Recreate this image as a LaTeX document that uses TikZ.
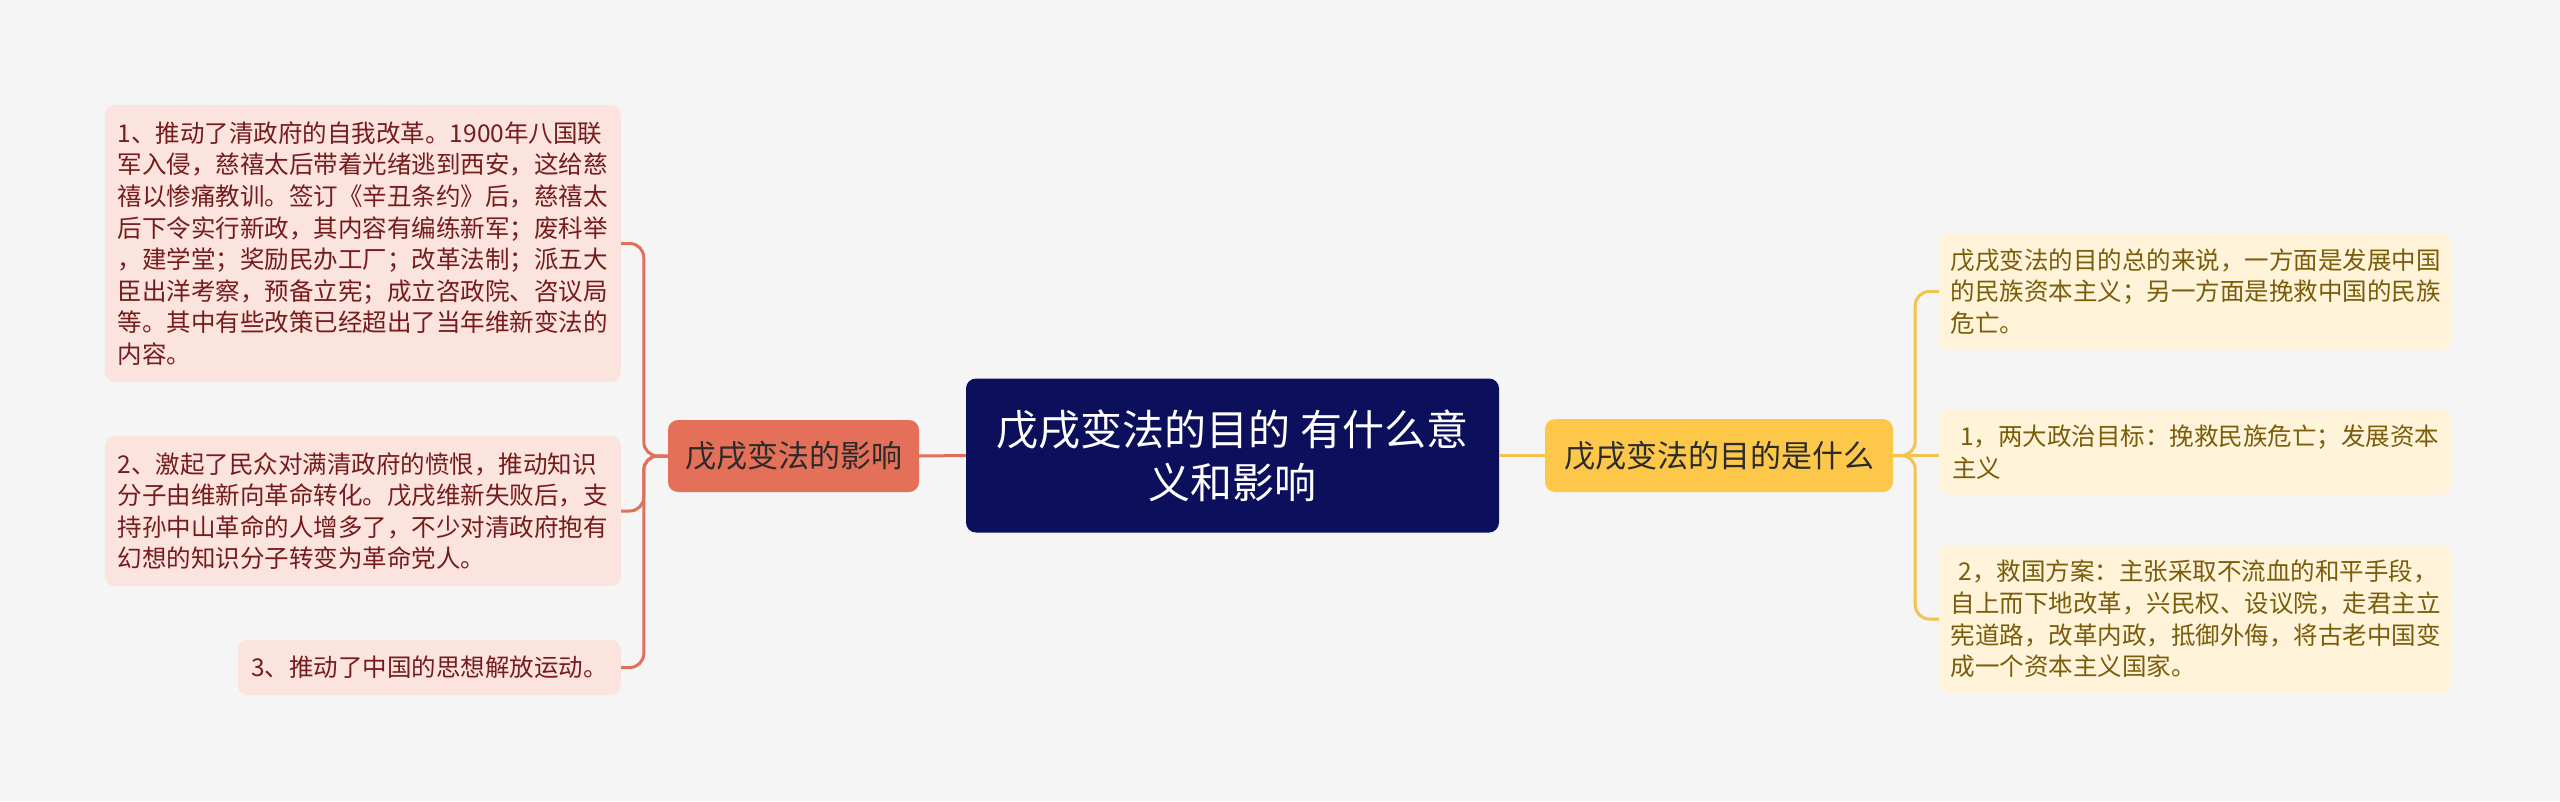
\documentclass[tikz,border=0pt]{standalone}
\usepackage{fontspec}
\setmainfont{Noto Sans CJK SC}
\definecolor{bg}{HTML}{F5F5F5}
\definecolor{navy}{HTML}{0B0F5C}
\definecolor{coral}{HTML}{E5705A}
\definecolor{coralline}{HTML}{E0705A}
\definecolor{pinkbox}{HTML}{FBE3DE}
\definecolor{pinktext}{HTML}{761C1C}
\definecolor{yel}{HTML}{FDC84A}
\definecolor{yelline}{HTML}{F5C24C}
\definecolor{creambox}{HTML}{FFF4DA}
\definecolor{creamtext}{HTML}{7A5C0A}
\definecolor{darktext}{HTML}{2B2B2B}
\begin{document}
\begin{tikzpicture}[x=1pt,y=-1pt,
  box/.style={rounded corners=10pt,inner sep=0pt,align=left},
  leafl/.style={box,fill=pinkbox,text=pinktext,font=\fontsize{24.5pt}{31.6pt}\selectfont,minimum width=516pt},
  leafr/.style={box,fill=creambox,text=creamtext,font=\fontsize{24.5pt}{31.6pt}\selectfont,minimum width=513pt},
  branchl/.style={box,fill=coral,text=darktext,font=\fontsize{31pt}{38pt}\selectfont,minimum width=251pt,minimum height=72pt,align=center},
  branchr/.style={box,fill=yel,text=darktext,font=\fontsize{31pt}{38pt}\selectfont,minimum width=348pt,minimum height=73pt,align=center},
  rootbox/.style={box,fill=navy,text=white,font=\fontsize{42pt}{53pt}\selectfont,minimum width=533pt,minimum height=154pt,align=center},
  linkl/.style={draw=coralline,line width=3pt,rounded corners=14pt},
  linkr/.style={draw=yelline,line width=3pt,rounded corners=14pt}
]
\fill[bg] (0,0) rectangle (2560,801);
\useasboundingbox (0,0) rectangle (2560,801);

\node[rootbox] (root) at (1232.5,455.5) {戊戌变法的目的 有什么意\\义和影响};
\node[branchl] (lb) at (793.5,456) {戊戌变法的影响};
\node[branchr] (rb) at (1719,455.5) {戊戌变法的目的是什么};

\node[leafl,minimum height=277pt,anchor=east] (l1) at (621,243.5) {1、推动了清政府的自我改革。1900年八国联\\军入侵，慈禧太后带着光绪逃到西安，这给慈\\禧以惨痛教训。签订《辛丑条约》后，慈禧太\\后下令实行新政，其内容有编练新军；废科举\\，建学堂；奖励民办工厂；改革法制；派五大\\臣出洋考察，预备立宪；成立咨政院、咨议局\\等。其中有些改策已经超出了当年维新变法的\\内容。};
\node[leafl,minimum height=150pt,anchor=east] (l2) at (621,511) {2、激起了民众对满清政府的愤恨，推动知识\\分子由维新向革命转化。戊戌维新失败后，支\\持孙中山革命的人增多了，不少对清政府抱有\\幻想的知识分子转变为革命党人。};
\node[leafl,minimum width=383pt,minimum height=55pt,anchor=east] (l3) at (621,667.5) {3、推动了中国的思想解放运动。};

\node[leafr,minimum height=117pt,anchor=west] (r1) at (1939,291.5) {戊戌变法的目的总的来说，一方面是发展中国\\的民族资本主义；另一方面是挽救中国的民族\\危亡。};
\node[leafr,minimum height=85pt,anchor=west] (r2) at (1939,452) {\hspace{8pt}1，两大政治目标：挽救民族危亡；发展资本\\主义};
\node[leafr,minimum height=148pt,anchor=west] (r3) at (1939,619) {\hspace{8pt}2，救国方案：主张采取不流血的和平手段，\\自上而下地改革，兴民权、设议院，走君主立\\宪道路，改革内政，抵御外侮，将古老中国变\\成一个资本主义国家。};

\draw[linkl] (root.west) -- (lb.east);
\draw[linkr] (root.east) -- (rb.west);
\foreach \c in {l1,l2,l3} \draw[linkl] (lb.west) -- ++(-24,0) |- (\c.east);
\foreach \c in {r1,r3} \draw[linkr] (rb.east) -- ++(22,0) |- (\c.west);
\draw[linkr] (rb.east) -- (rb.east -| r2.west);
\end{tikzpicture}
\end{document}
